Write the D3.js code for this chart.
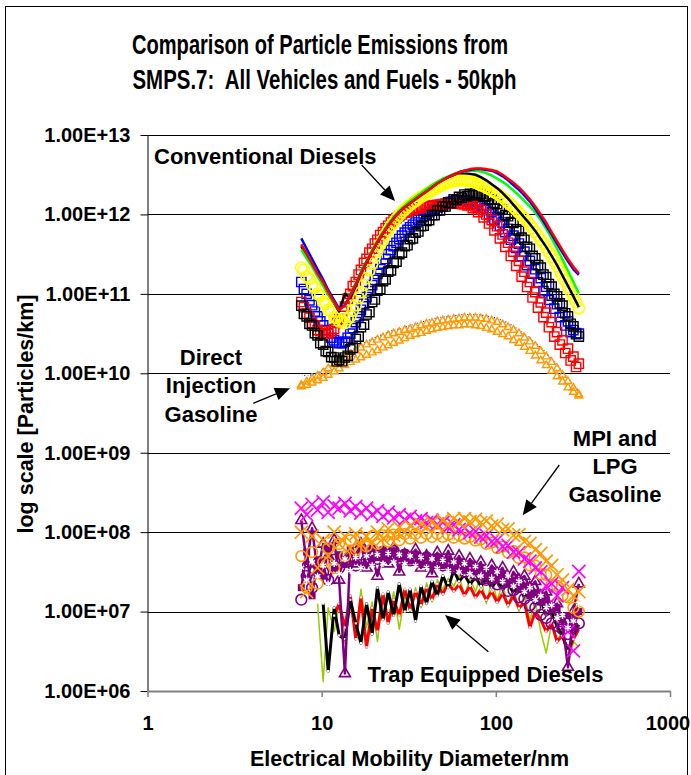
<!DOCTYPE html>
<html><head><meta charset="utf-8">
<script src="https://cdn.jsdelivr.net/npm/d3@7"></script>
<style>
body{margin:0;background:#fff;}
svg{display:block;font-family:"Liberation Sans",Arial,Helvetica,sans-serif;font-weight:bold;}
text{white-space:pre;}
</style>
</head><body>
<svg id="chart" width="691" height="775"></svg>
<script>
// ---------- DATA ----------
const diameters = [7.64,8.2,8.81,9.47,10.2,10.9,11.8,12.6,13.6,14.6,15.7,16.8,18.1,19.5,20.9,22.5,24.1,25.9,27.9,30.0,32.2,34.6,37.2,40.0,43.0,46.1,49.6,53.3,57.3,61.5,66.1,71.0,76.4,82.0,88.2,94.7,101.8,109.4,117.6,126.3,135.7,145.9,156.8,168.5,181.1,194.6,209.1,224.7,241.4,259.5,278.8,299.6];
const diametersMid = [7.91,8.51,9.14,9.82,10.55,11.35,12.2,13.1,14.1,15.1,16.3,17.5,18.8,20.2,21.7,23.3,25.0,26.9,28.9,31.1,33.4,35.9,38.5,41.4,44.5,47.8,51.4,55.2,59.4,63.8,68.5,73.7,79.1,85.1,91.4,98.2,105.5,113.4,121.9,131.0,140.7,151.2,162.5,174.7,187.7,201.7,216.7,232.9,250.3,269.0,289.0];
const yTickValues = [1e6,1e7,1e8,1e9,1e10,1e11,1e12,1e13];
const xTickValues = [1,10,100,1000];

// Conventional diesels
const dieselRedLine = [4.2e11,3.2e11,2.4e11,1.8e11,1.4e11,1.05e11,7.9e10,6.3e10,7.1e10,9.5e10,1.32e11,1.8e11,2.5e11,3.4e11,4.5e11,5.8e11,7.2e11,8.9e11,1.07e12,1.23e12,1.38e12,1.55e12,1.74e12,1.95e12,2.19e12,2.45e12,2.69e12,2.95e12,3.16e12,3.39e12,3.55e12,3.72e12,3.8e12,3.8e12,3.72e12,3.63e12,3.47e12,3.16e12,2.82e12,2.51e12,2.19e12,1.86e12,1.55e12,1.26e12,1.0e12,7.9e11,6.0e11,4.6e11,3.55e11,2.75e11,2.19e11,1.82e11];
const dieselBlueLine = [5.0e11,3.7e11,2.75e11,2.04e11,1.51e11,1.12e11,8.3e10,6.5e10,7.2e10,9.5e10,1.32e11,1.82e11,2.51e11,3.39e11,4.47e11,5.75e11,7.24e11,8.91e11,1.07e12,1.23e12,1.38e12,1.55e12,1.74e12,1.95e12,2.19e12,2.45e12,2.69e12,2.95e12,3.16e12,3.39e12,3.55e12,3.63e12,3.72e12,3.72e12,3.63e12,3.55e12,3.31e12,3.02e12,2.69e12,2.34e12,2.04e12,1.74e12,1.45e12,1.17e12,9.3e11,7.2e11,5.6e11,4.3e11,3.3e11,2.57e11,2.04e11,1.74e11];
const dieselGreenLine = [3.6e11,2.8e11,2.2e11,1.66e11,1.26e11,9.8e10,7.6e10,6.3e10,7.2e10,9.8e10,1.38e11,1.91e11,2.63e11,3.55e11,4.68e11,6.0e11,7.6e11,9.3e11,1.12e12,1.29e12,1.48e12,1.66e12,1.86e12,2.09e12,2.34e12,2.57e12,2.82e12,3.02e12,3.24e12,3.39e12,3.47e12,3.55e12,3.55e12,3.47e12,3.31e12,3.09e12,2.82e12,2.57e12,2.29e12,2.0e12,1.74e12,1.48e12,1.26e12,1.05e12,8.5e11,6.6e11,5.0e11,3.7e11,2.7e11,1.95e11,1.41e11,1.02e11];
const dieselBlackLine = [4.0e11,3.0e11,2.3e11,1.74e11,1.32e11,1.0e11,7.6e10,6.0e10,1.0e11,8.9e10,1.26e11,1.78e11,2.51e11,3.47e11,4.57e11,5.9e11,7.4e11,9.1e11,1.1e12,1.26e12,1.45e12,1.62e12,1.82e12,2.04e12,2.29e12,2.51e12,2.75e12,2.95e12,3.16e12,3.31e12,3.31e12,3.24e12,3.16e12,2.95e12,2.69e12,2.4e12,2.14e12,1.86e12,1.58e12,1.32e12,1.1e12,9.1e11,7.6e11,6.2e11,4.9e11,3.9e11,3.0e11,2.3e11,1.7e11,1.26e11,9.3e10,6.8e10];
const dieselYellowCircles = [2.14e11,1.66e11,1.29e11,1.0e11,7.9e10,6.3e10,5.1e10,4.5e10,4.3e10,5.2e10,7.2e10,1.05e11,1.58e11,2.4e11,3.47e11,4.79e11,6.3e11,7.9e11,9.8e11,1.15e12,1.32e12,1.48e12,1.66e12,1.82e12,2.0e12,2.19e12,2.34e12,2.51e12,2.63e12,2.69e12,2.69e12,2.63e12,2.51e12,2.34e12,2.19e12,2.0e12,1.82e12,1.62e12,1.41e12,1.23e12,1.05e12,8.9e11,7.4e11,6.0e11,4.8e11,3.8e11,2.95e11,2.24e11,1.66e11,1.23e11,9.1e10,6.6e10];
const dieselYellowCircles2 = [2.0e11,1.55e11,1.2e11,9.5e10,7.5e10,6.0e10,5.0e10,4.6e10,4.8e10,6.2e10,8.9e10,1.3e11,1.98e11,2.95e11,4.2e11,5.6e11,7.2e11,8.9e11,1.07e12,1.24e12,1.41e12,1.58e12,1.74e12,1.91e12,2.09e12,2.27e12,2.43e12,2.57e12,2.66e12,2.7e12,2.66e12,2.57e12,2.43e12,2.27e12,2.1e12,1.91e12,1.72e12,1.52e12,1.32e12,1.14e12,9.7e11,8.2e11,6.7e11,5.4e11,4.3e11,3.35e11,2.6e11,1.95e11,1.45e11,1.07e11,7.8e10];
const dieselBlackSquares = [7.1e10,5.2e10,4.0e10,3.0e10,2.3e10,1.86e10,1.58e10,1.48e10,1.58e10,2.0e10,2.7e10,3.8e10,5.5e10,7.9e10,1.1e11,1.45e11,1.9e11,2.45e11,3.16e11,4.0e11,4.9e11,5.9e11,7.1e11,8.3e11,9.8e11,1.12e12,1.26e12,1.41e12,1.55e12,1.66e12,1.78e12,1.82e12,1.86e12,1.82e12,1.7e12,1.55e12,1.35e12,1.15e12,9.5e11,7.8e11,6.2e11,4.8e11,3.7e11,2.8e11,2.14e11,1.62e11,1.23e11,9.3e10,7.1e10,5.2e10,3.9e10,2.9e10];
const dieselBlackSquares2 = [5.6e10,4.2e10,3.2e10,2.4e10,1.9e10,1.6e10,1.42e10,1.42e10,1.66e10,2.1e10,2.9e10,4.1e10,5.9e10,8.5e10,1.15e11,1.52e11,1.98e11,2.55e11,3.3e11,4.1e11,5.0e11,6.1e11,7.2e11,8.5e11,9.8e11,1.12e12,1.26e12,1.39e12,1.52e12,1.62e12,1.7e12,1.75e12,1.75e12,1.68e12,1.55e12,1.38e12,1.18e12,9.8e11,8.0e11,6.5e11,5.1e11,3.9e11,3.0e11,2.3e11,1.75e11,1.33e11,1.0e11,7.6e10,5.7e10,4.2e10,3.1e10];
const dieselBlueSquares = [1.41e11,1.0e11,7.2e10,5.2e10,4.0e10,3.16e10,2.6e10,2.4e10,2.5e10,3.16e10,4.4e10,6.3e10,9.1e10,1.29e11,1.78e11,2.4e11,3.16e11,4.0e11,4.9e11,5.9e11,6.9e11,7.9e11,9.1e11,1.02e12,1.12e12,1.23e12,1.32e12,1.41e12,1.48e12,1.51e12,1.51e12,1.48e12,1.41e12,1.32e12,1.2e12,1.07e12,9.3e11,7.9e11,6.6e11,5.4e11,4.3e11,3.4e11,2.6e11,2.04e11,1.58e11,1.23e11,9.5e10,7.4e10,5.8e10,4.5e10,3.5e10,3.16e10];
const dieselBlueSquares2 = [1.15e11,8.3e10,6.0e10,4.5e10,3.5e10,2.8e10,2.45e10,2.4e10,2.8e10,3.7e10,5.2e10,7.5e10,1.08e11,1.5e11,2.05e11,2.75e11,3.55e11,4.4e11,5.4e11,6.4e11,7.4e11,8.5e11,9.6e11,1.07e12,1.17e12,1.27e12,1.36e12,1.44e12,1.49e12,1.5e12,1.46e12,1.37e12,1.26e12,1.13e12,1.0e12,8.6e11,7.2e11,6.0e11,4.8e11,3.8e11,3.0e11,2.3e11,1.8e11,1.4e11,1.08e11,8.4e10,6.5e10,5.1e10,4.0e10,3.3e10,3.2e10];
const dieselRedSquares = [7.9e10,5.6e10,4.3e10,3.5e10,3.16e10,3.16e10,3.6e10,4.8e10,6.9e10,1.0e11,1.41e11,2.0e11,2.75e11,3.7e11,4.8e11,6.0e11,7.2e11,8.5e11,9.5e11,1.05e12,1.12e12,1.17e12,1.23e12,1.26e12,1.29e12,1.32e12,1.35e12,1.38e12,1.38e12,1.38e12,1.35e12,1.32e12,1.26e12,1.15e12,1.0e12,8.5e11,7.1e11,5.6e11,4.4e11,3.4e11,2.6e11,1.9e11,1.41e11,1.05e11,7.8e10,5.8e10,4.4e10,3.3e10,2.6e10,2.04e10,1.62e10,1.32e10];
const dieselRedSquares2 = [6.8e10,5.0e10,4.0e10,3.4e10,3.2e10,3.4e10,4.3e10,6.0e10,8.7e10,1.25e11,1.75e11,2.45e11,3.3e11,4.3e11,5.5e11,6.7e11,7.9e11,9.0e11,1.0e12,1.08e12,1.14e12,1.2e12,1.24e12,1.27e12,1.3e12,1.33e12,1.36e12,1.37e12,1.37e12,1.35e12,1.3e12,1.2e12,1.07e12,9.2e11,7.7e11,6.3e11,5.0e11,3.9e11,3.0e11,2.25e11,1.65e11,1.22e11,9.0e10,6.7e10,5.1e10,3.8e10,2.9e10,2.3e10,1.8e10,1.45e10,1.2e10];

// Direct injection gasoline
const diOrangeUpper = [7.1e9,7.8e9,8.5e9,9.3e9,1.02e10,1.15e10,1.29e10,1.45e10,1.58e10,1.74e10,1.91e10,2.09e10,2.29e10,2.45e10,2.63e10,2.82e10,3.0e10,3.16e10,3.3e10,3.5e10,3.6e10,3.8e10,4.0e10,4.2e10,4.3e10,4.5e10,4.6e10,4.7e10,4.8e10,4.9e10,5.0e10,5.0e10,5.0e10,4.9e10,4.8e10,4.6e10,4.4e10,4.1e10,3.8e10,3.5e10,3.16e10,2.8e10,2.5e10,2.2e10,1.9e10,1.62e10,1.38e10,1.15e10,9.5e9,7.9e9,6.5e9,5.4e9];
const diOrangeLower = [6.8e9,7.1e9,7.6e9,8.1e9,8.7e9,9.5e9,1.05e10,1.15e10,1.26e10,1.38e10,1.48e10,1.58e10,1.7e10,1.82e10,1.95e10,2.1e10,2.24e10,2.4e10,2.57e10,2.75e10,2.95e10,3.1e10,3.2e10,3.4e10,3.55e10,3.7e10,3.8e10,3.9e10,4.0e10,4.0e10,4.1e10,4.1e10,4.0e10,3.9e10,3.7e10,3.55e10,3.3e10,3.1e10,2.9e10,2.6e10,2.4e10,2.14e10,1.9e10,1.66e10,1.45e10,1.26e10,1.07e10,9.1e9,7.8e9,6.6e9,5.8e9,5.2e9];
const diBlueDotted = [9.5e9,9.3e9,9.6e9,1.02e10,1.1e10,1.2e10,1.35e10,1.5e10,1.7e10,1.9e10,2.1e10,2.3e10,2.5e10,2.7e10,2.9e10,3.1e10,3.3e10,3.5e10,3.6e10,3.8e10,4.0e10,4.2e10,4.4e10,4.6e10,4.8e10,5.0e10,5.1e10,5.2e10,5.3e10,5.4e10,5.5e10,5.5e10,5.5e10,5.4e10,5.3e10,5.1e10,4.9e10,4.6e10,4.3e10,3.9e10,3.5e10,3.1e10,2.75e10,2.4e10,2.1e10,1.8e10,1.5e10,1.26e10,1.05e10,8.7e9,7.2e9,6.0e9];

// MPI and LPG gasoline
const mpiMagentaX = [2.0e8,1.66e8,2.24e8,1.9e8,2.4e8,1.78e8,2.14e8,2.0e8,2.3e8,1.86e8,2.1e8,1.74e8,2.0e8,1.66e8,1.86e8,1.58e8,1.78e8,1.51e8,1.66e8,1.45e8,1.58e8,1.38e8,1.48e8,1.32e8,1.41e8,1.26e8,1.32e8,1.15e8,1.23e8,1.07e8,1.12e8,9.8e7,1.02e8,8.7e7,9.1e7,7.6e7,7.9e7,6.6e7,6.8e7,5.6e7,5.5e7,4.6e7,4.3e7,3.55e7,3.16e7,2.1e7,2.24e7,1.58e7,2.0e7,5.6e6,3.2e6,3.2e7];
const mpiOrangeX = [1.0e8,1.78e7,8.9e7,3.55e7,7.9e7,5.0e7,1.0e8,7.1e7,8.9e7,6.3e7,9.5e7,7.1e7,8.9e7,7.6e7,1.0e8,8.3e7,1.1e8,9.1e7,1.15e8,1.0e8,1.2e8,1.07e8,1.26e8,1.15e8,1.32e8,1.2e8,1.41e8,1.26e8,1.48e8,1.32e8,1.48e8,1.35e8,1.45e8,1.32e8,1.38e8,1.2e8,1.26e8,1.07e8,1.1e8,9.1e7,9.3e7,7.6e7,7.2e7,6.0e7,5.4e7,4.3e7,3.8e7,2.9e7,2.5e7,1.9e7,1.58e7,1.78e7];
const mpiPurpleTriangles = [1.41e8,4.0e7,1.12e8,3.16e7,7.1e7,5.0e7,7.9e7,2.5e7,1.66e6,5.6e7,4.0e7,7.1e7,3.55e7,5.0e7,2.8e7,5.6e7,4.0e7,6.3e7,3.16e7,5.2e7,4.2e7,6.0e7,3.55e7,5.0e7,3.0e7,5.5e7,4.0e7,5.8e7,3.8e7,5.0e7,3.3e7,4.6e7,3.55e7,4.2e7,2.5e7,3.8e7,3.0e7,3.55e7,2.24e7,3.16e7,2.5e7,2.8e7,2.0e7,2.4e7,1.58e7,1.78e7,1.12e7,1.26e7,7.1e6,2.0e6,1.0e7,2.24e7];
const mpiPurpleSquares = [2.0e7,5.6e7,1.58e7,4.5e7,2.8e7,6.3e7,3.55e7,5.2e7,4.0e7,6.0e7,4.6e7,6.6e7,5.0e7,6.3e7,4.8e7,6.0e7,5.0e7,5.8e7,4.6e7,5.5e7,4.4e7,5.2e7,4.2e7,5.0e7,4.0e7,4.8e7,3.8e7,4.6e7,3.55e7,4.3e7,3.3e7,4.0e7,3.16e7,3.6e7,2.8e7,3.3e7,2.5e7,2.9e7,2.24e7,2.5e7,1.9e7,2.1e7,1.58e7,1.74e7,1.32e7,1.41e7,1.05e7,1.12e7,7.9e6,8.9e6,6.3e6,1.0e7];
const lpgOrangeCircles = [5.0e7,2.0e7,5.6e7,2.24e7,4.2e7,6.3e7,3.55e7,7.1e7,5.0e7,7.9e7,6.0e7,8.3e7,6.6e7,8.9e7,7.1e7,9.1e7,7.6e7,9.3e7,7.9e7,9.5e7,8.3e7,9.5e7,8.5e7,9.5e7,8.7e7,9.5e7,8.7e7,9.3e7,8.5e7,9.1e7,8.3e7,8.7e7,7.8e7,8.1e7,7.1e7,7.4e7,6.3e7,6.6e7,5.5e7,5.8e7,4.7e7,4.8e7,3.8e7,3.8e7,2.95e7,2.9e7,2.19e7,2.1e7,1.58e7,1.51e7,1.12e7,1.0e7];
const lpgPurpleCircles = [1.41e7,2.8e7,2.0e7,4.0e7,3.16e7,2.5e7,4.5e7,3.55e7,4.2e7,5.0e7,3.8e7,5.2e7,4.4e7,5.6e7,4.6e7,5.5e7,4.8e7,5.8e7,4.6e7,5.2e7,4.4e7,5.0e7,4.2e7,4.8e7,4.0e7,4.6e7,3.8e7,4.2e7,3.55e7,3.8e7,3.16e7,3.5e7,2.9e7,3.0e7,2.5e7,2.6e7,2.2e7,2.3e7,1.82e7,1.86e7,1.51e7,1.45e7,1.2e7,1.12e7,9.1e6,8.3e6,7.1e6,6.6e6,6.0e6,5.2e6,6.3e6,7.1e6];
const lpgPurpleStars = [3.55e7,2.5e7,4.2e7,2.8e7,3.8e7,2.24e7,4.0e7,3.0e7,4.6e7,3.3e7,4.8e7,3.55e7,5.0e7,3.8e7,5.2e7,4.0e7,5.4e7,4.2e7,5.2e7,4.0e7,5.0e7,3.8e7,4.8e7,3.6e7,4.6e7,3.5e7,4.4e7,3.3e7,4.2e7,3.16e7,4.0e7,3.0e7,3.7e7,2.8e7,3.5e7,2.6e7,3.16e7,2.4e7,2.8e7,2.1e7,2.4e7,1.78e7,2.0e7,1.41e7,1.58e7,1.12e7,1.2e7,8.3e6,8.9e6,6.3e6,7.6e6,1.26e7];

// Trap equipped diesels
const trapGreen = [null,null,null,1.26e7,1.32e6,1.12e7,5.6e6,1.2e7,4.0e6,1.58e7,5.0e6,1.91e7,6.3e6,1.32e7,4.2e6,1.66e7,7.9e6,1.78e7,6.0e6,1.58e7,1.0e7,2.0e7,1.12e7,2.29e7,1.32e7,2.51e7,1.91e7,2.63e7,2.09e7,2.88e7,1.58e7,2.63e7,1.78e7,2.82e7,1.26e7,2.51e7,1.41e7,2.29e7,1.12e7,2.09e7,1.0e7,1.66e7,7.9e6,1.32e7,5.6e6,3.0e6,7.1e6,4.0e6,6.3e6,1.91e6,4.2e6,3.55e6];
const trapBlack = [null,null,null,null,1.26e7,1.78e6,1.12e7,5.0e6,4.5e6,1.41e7,7.1e6,4.0e6,1.26e7,5.2e6,2.0e7,7.9e6,1.78e7,8.9e6,2.24e7,1.0e7,1.91e7,7.6e6,2.09e7,1.26e7,2.4e7,1.58e7,2.82e7,2.0e7,3.3e7,2.4e7,2.9e7,2.2e7,2.7e7,2.1e7,2.6e7,2.0e7,2.5e7,1.9e7,2.3e7,1.7e7,2.1e7,1.5e7,1.8e7,1.2e7,1.4e7,9.0e6,1.0e7,6.5e6,5.0e6,3.2e6,5.0e6,7.0e6];
const trapRed = [null,null,null,null,null,null,8.9e6,1.26e7,6.3e6,1.58e7,4.5e6,1.51e7,3.55e6,1.12e7,5.6e6,1.66e7,7.1e6,1.41e7,8.9e6,1.91e7,1.05e7,1.78e7,1.2e7,2.0e7,1.41e7,2.24e7,1.66e7,2.3e7,1.8e7,2.2e7,1.6e7,2.1e7,1.5e7,1.9e7,1.4e7,1.8e7,1.3e7,1.7e7,1.2e7,1.6e7,1.1e7,1.3e7,6.3e6,1.0e7,7.9e6,5.6e6,7.1e6,4.2e6,5.0e6,3.0e6,4.5e6,6.0e6];

// ---------- CHART ----------
const svg = d3.select('#chart');
const x = d3.scaleLog().domain([1, 1000]).range([147.5, 670]);
const y = d3.scaleLog().domain([1e6, 1e13]).range([691, 135]);

svg.append('rect').attr('x', 5.5).attr('y', 6.5).attr('width', 682).attr('height', 800)
  .attr('fill', '#fff').attr('stroke', '#000').attr('stroke-width', 1);

// title
const title = svg.append('g').attr('font-size', 28).attr('fill', '#000');
title.append('text').attr('x', 132).attr('y', 53.5).attr('textLength', 376).attr('lengthAdjust', 'spacingAndGlyphs')
  .text('Comparison of Particle Emissions from');
title.append('text').attr('x', 132.5).attr('y', 88.5).attr('textLength', 384).attr('lengthAdjust', 'spacingAndGlyphs')
  .attr('xml:space', 'preserve')
  .text('SMPS.7:  All Vehicles and Fuels - 50kph');

// gridlines
svg.append('g').selectAll('line').data(yTickValues.slice(1)).join('line')
  .attr('x1', 147.5).attr('x2', 670)
  .attr('y1', d => Math.round(y(d)) + 0.5).attr('y2', d => Math.round(y(d)) + 0.5)
  .attr('stroke', '#000').attr('stroke-width', 1);

// axes
const fmt = v => '1.00E+' + String(Math.round(Math.log10(v))).padStart(2, '0');
const yAxis = svg.append('g').attr('transform', 'translate(147.5,0)')
  .call(d3.axisLeft(y).tickValues(yTickValues).tickFormat(fmt).tickSize(7).tickPadding(10).tickSizeOuter(0));
yAxis.select('.domain').attr('stroke', '#000');
yAxis.selectAll('.tick line').attr('stroke', '#000');
yAxis.selectAll('text').attr('font-size', 20).attr('font-family', 'Liberation Sans, Arial, sans-serif').attr('font-weight', 'bold').attr('fill', '#000');

const xAxis = svg.append('g').attr('transform', 'translate(0,691)')
  .call(d3.axisBottom(x).tickValues(xTickValues).tickFormat(d3.format('d')).tickSize(6).tickPadding(19).tickSizeOuter(0));
xAxis.select('.domain').attr('stroke', '#808080').attr('stroke-width', 2);
xAxis.selectAll('.tick line').attr('stroke', '#808080').attr('stroke-width', 1.5);
xAxis.selectAll('text').attr('font-size', 20).attr('font-family', 'Liberation Sans, Arial, sans-serif').attr('font-weight', 'bold').attr('fill', '#000')
  .attr('dx', d => d === 1000 ? -2.5 : 0);

// axis titles
svg.append('text').attr('x', 409.5).attr('y', 766).attr('text-anchor', 'middle').attr('font-size', 21.5)
  .text('Electrical Mobility Diameter/nm');
svg.append('text').attr('transform', 'translate(33,414) rotate(-90)').attr('text-anchor', 'middle').attr('font-size', 21.5)
  .text('log scale [Particles/km]');

// ---------- series drawing helpers ----------
const plot = svg.append('g');
function pts(values, grid) {
  const g = grid || diameters;
  return g.map((d, i) => [d, values[i]]).filter(p => p[1] != null);
}
function drawLine(values, color, width, dash, grid) {
  plot.append('path').attr('d', d3.line().x(p => x(p[0])).y(p => y(p[1]))(pts(values, grid)))
    .attr('fill', 'none').attr('stroke', color).attr('stroke-width', width)
    .attr('stroke-linejoin', 'round').attr('stroke-dasharray', dash || null);
}
function drawMarkers(values, type, size, stroke, fill, sw, grid) {
  const sym = d3.symbol().type(type).size(size);
  plot.append('g').selectAll('path').data(pts(values, grid)).join('path')
    .attr('transform', p => `translate(${x(p[0])},${y(p[1])})`)
    .attr('d', sym)
    .attr('fill', fill).attr('stroke', stroke).attr('stroke-width', sw);
}

// Direct injection gasoline
drawLine(diBlueDotted, '#0000FF', 1.2, '1,2');
drawMarkers(diBlueDotted, d3.symbolSquare, 5, 'none', '#fff', 0);
drawMarkers(diOrangeLower, d3.symbolTriangle2, 42, '#FF9900', 'none', 1.4);
drawMarkers(diOrangeUpper, d3.symbolTriangle2, 42, '#FF9900', 'none', 1.4);

// Conventional diesels
drawMarkers(dieselBlueSquares, d3.symbolSquare2, 110, '#0000FF', 'none', 1.4);
drawMarkers(dieselBlueSquares2, d3.symbolSquare2, 110, '#0000FF', 'none', 1.4, diametersMid);
drawMarkers(dieselRedSquares, d3.symbolSquare2, 110, '#FF0000', 'none', 1.4);
drawMarkers(dieselRedSquares2, d3.symbolSquare2, 110, '#FF0000', 'none', 1.4, diametersMid);
drawMarkers(dieselBlackSquares, d3.symbolSquare2, 110, '#000000', 'none', 1.4);
drawMarkers(dieselBlackSquares2, d3.symbolSquare2, 110, '#000000', 'none', 1.4, diametersMid);
drawMarkers(dieselYellowCircles, d3.symbolCircle, 100, '#FFFF00', 'none', 1.6);
drawMarkers(dieselYellowCircles2, d3.symbolCircle, 100, '#FFFF00', 'none', 1.6, diametersMid);
drawLine(dieselBlackLine, '#000000', 2.5);
drawLine(dieselGreenLine, '#00FF00', 2.5);
drawLine(dieselBlueLine, '#0000FF', 2.5);
drawLine(dieselRedLine, '#FF0000', 2.5);

// Trap equipped diesels (drawn beneath the gasoline clusters)
drawLine(trapGreen, '#99CC00', 1.5);
drawLine(trapRed, '#FF0000', 3);
drawLine(trapBlack, '#000000', 3);
drawMarkers(trapRed, d3.symbolSquare, 5, 'none', '#fff', 0);
drawMarkers(trapBlack, d3.symbolSquare, 5, 'none', '#fff', 0);

// MPI and LPG gasoline
drawMarkers(lpgPurpleCircles, d3.symbolCircle, 90, '#800080', 'none', 1.6);
drawLine(mpiPurpleSquares, '#800080', 2.5);
drawMarkers(mpiPurpleSquares, d3.symbolSquare, 50, 'none', '#800080', 0);
drawLine(mpiPurpleTriangles, '#800080', 2.5);
drawMarkers(mpiPurpleTriangles, d3.symbolTriangle2, 85, '#800080', 'none', 1.6);
drawLine(lpgPurpleStars, '#800080', 2.5);
drawMarkers(lpgOrangeCircles, d3.symbolCircle, 90, '#FF9900', 'none', 1.6);
drawMarkers(mpiMagentaX, d3.symbolTimes, 115, '#FF00FF', 'none', 1.7);
drawMarkers(mpiOrangeX, d3.symbolTimes, 115, '#FF9900', 'none', 1.7);
drawMarkers(lpgPurpleStars, d3.symbolAsterisk, 30, '#fff', 'none', 1.4);

// ---------- annotations ----------
const ann = svg.append('g').attr('font-size', 22).attr('fill', '#000');
ann.append('text').attr('x', 154).attr('y', 164).text('Conventional Diesels');
[['Direct', 365], ['Injection', 393], ['Gasoline', 421.5]].forEach(([t, yy]) =>
  ann.append('text').attr('x', 211).attr('y', yy).attr('text-anchor', 'middle').text(t));
[['MPI and', 445.5], ['LPG', 474], ['Gasoline', 502]].forEach(([t, yy]) =>
  ann.append('text').attr('x', 615).attr('y', yy).attr('text-anchor', 'middle').text(t));
ann.append('text').attr('x', 485.5).attr('y', 682).attr('text-anchor', 'middle').text('Trap Equipped Diesels');

function arrow(x1, y1, x2, y2) {
  const a = Math.atan2(y2 - y1, x2 - x1), L = 15, W = 6.5;
  const bx = x2 - L * Math.cos(a), by = y2 - L * Math.sin(a);
  svg.append('line').attr('x1', x1).attr('y1', y1).attr('x2', bx).attr('y2', by)
    .attr('stroke', '#000').attr('stroke-width', 1.3);
  const px = -Math.sin(a) * W, py = Math.cos(a) * W;
  svg.append('path').attr('d', `M${x2},${y2}L${bx + px},${by + py}L${bx - px},${by - py}Z`).attr('fill', '#000');
}
arrow(361.7, 165, 395, 201);
arrow(253.3, 403.3, 290, 388.3);
arrow(559.3, 465, 522.7, 515.3);
arrow(488.3, 651.7, 445, 615);
</script>
</body></html>
